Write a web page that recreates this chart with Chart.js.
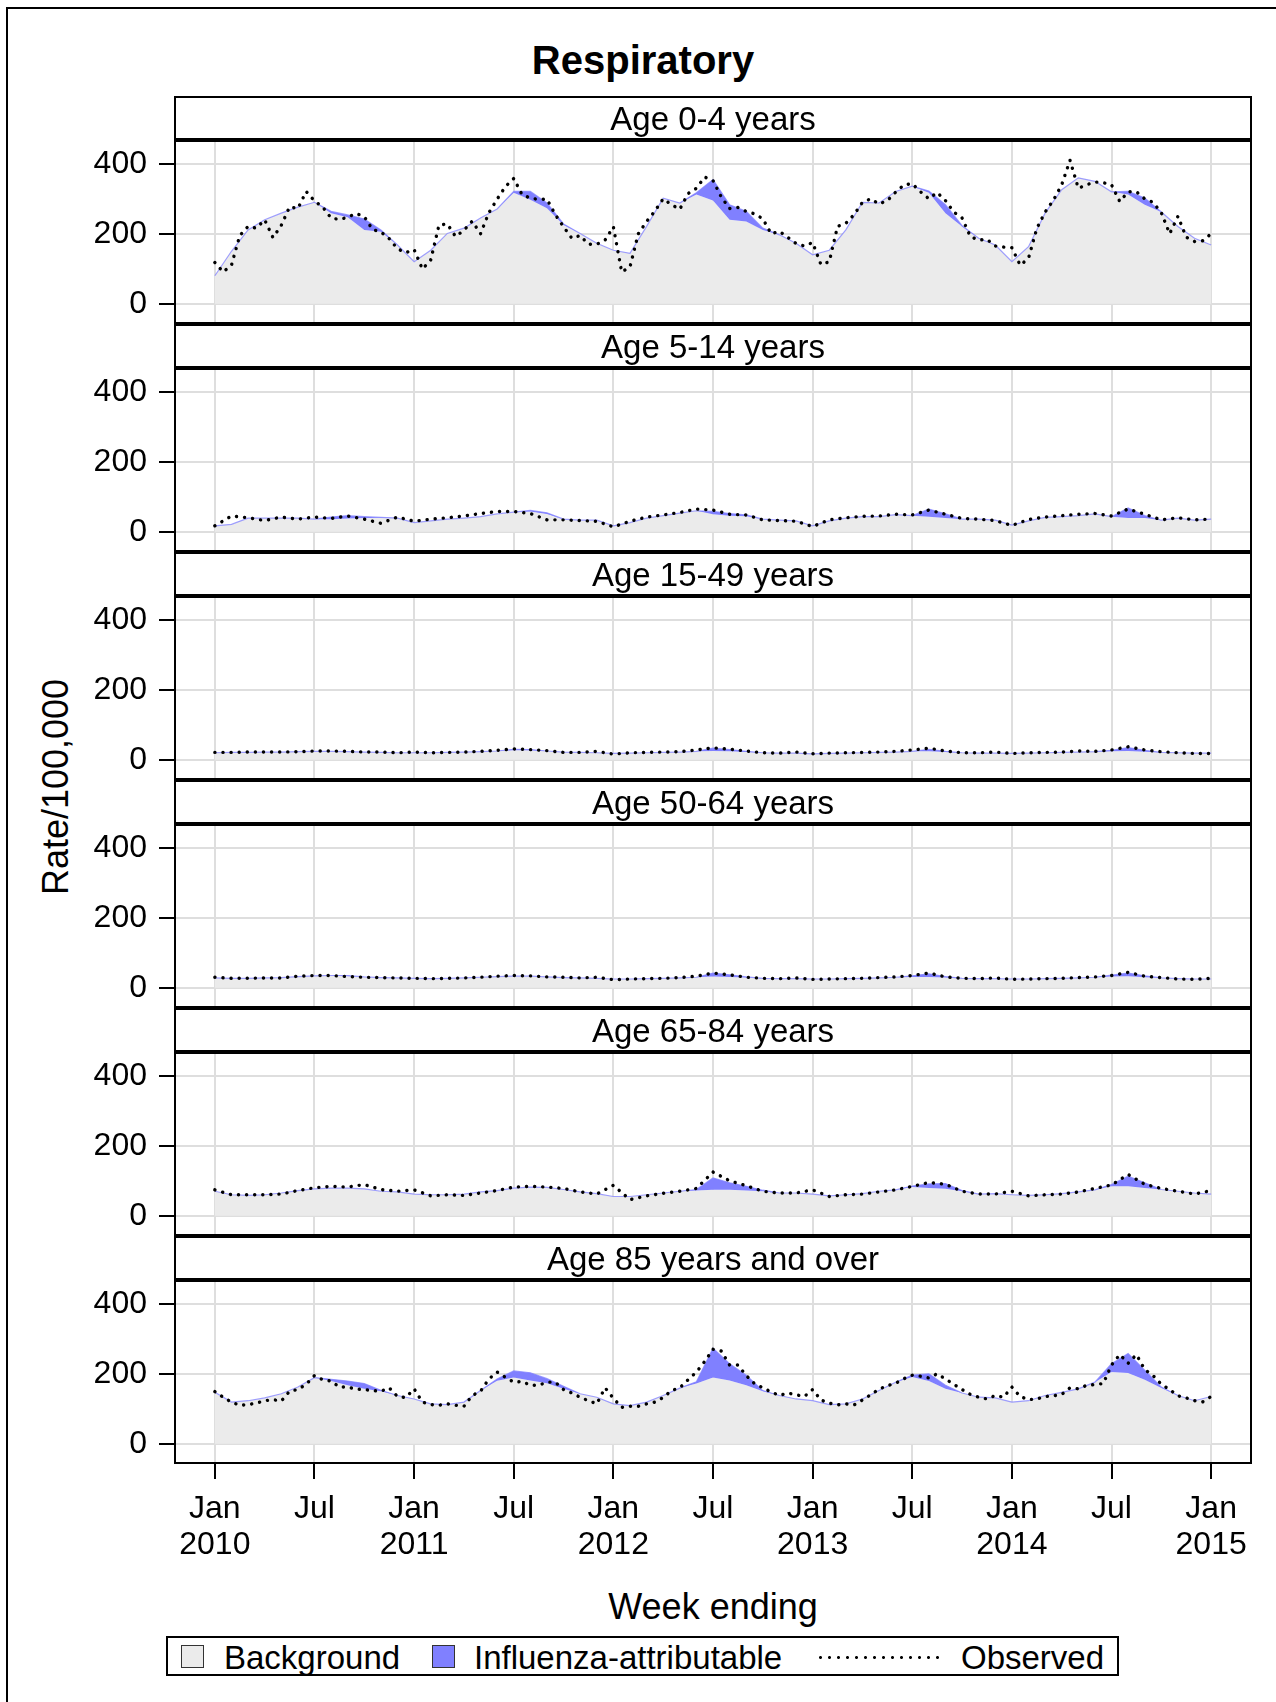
<!DOCTYPE html>
<html>
<head>
<meta charset="utf-8">
<title>Respiratory</title>
<script src="https://cdn.jsdelivr.net/npm/chart.js@4.4.1/dist/chart.umd.min.js"></script>
<style>
  body { margin: 0; background: #fff; width: 1276px; height: 1702px; overflow: hidden; position: relative;
         font-family: "Liberation Sans", Arial, sans-serif; color: #000; }
  #frame { position: absolute; left: 6px; top: 7px; width: 1290px; height: 1720px; border: 2px solid #000; }
  canvas { position: absolute; left: 0; }
  .txt { position: absolute; white-space: nowrap; }
  #title { left: 643px; top: 40px; font-size: 40px; line-height: 40px; font-weight: bold; transform: translateX(-50%); }
  #xtitle { left: 713px; top: 1589px; font-size: 36px; line-height: 36px; transform: translateX(-50%); }
  #ytitle { left: -144px; top: 769px; width: 400px; text-align: center; font-size: 36px; line-height: 36px; transform: rotate(-90deg); }
  #legend { position: absolute; left: 166px; top: 1636px; width: 949px; height: 36px; border: 2px solid #000; }
  .sw { position: absolute; top: 1645px; width: 21px; height: 21px; border: 1.5px solid #333; }
  .lt { top: 1641px; font-size: 33px; line-height: 33px; }
  #dots { position: absolute; left: 816px; top: 1655px; width: 128px; height: 5px;
          background-image: radial-gradient(circle, #000 1.2px, transparent 1.7px); background-size: 9px 5px; }
</style>
</head>
<body>
<div id="frame"></div>
<div class="txt" id="title">Respiratory</div>
<div class="txt" id="ytitle">Rate/100,000</div>
<div class="txt" id="xtitle">Week ending</div>

<canvas id="p0" width="1276" height="230" style="top:95px"></canvas>
<canvas id="p1" width="1276" height="230" style="top:323px"></canvas>
<canvas id="p2" width="1276" height="230" style="top:551px"></canvas>
<canvas id="p3" width="1276" height="230" style="top:779px"></canvas>
<canvas id="p4" width="1276" height="230" style="top:1007px"></canvas>
<canvas id="p5" width="1276" height="360" style="top:1235px"></canvas>

<div id="legend"></div>
<div class="sw" style="left:181px; background:#ebebeb"></div>
<div class="txt lt" style="left:224px">Background</div>
<div class="sw" style="left:432px; background:#8080ff"></div>
<div class="txt lt" style="left:474px">Influenza-attributable</div>
<div id="dots"></div>
<div class="txt lt" style="left:961px">Observed</div>

<script>
// panels
var panelLabels = ["Age 0-4 years", "Age 5-14 years", "Age 15-49 years", "Age 50-64 years", "Age 65-84 years", "Age 85 years and over"];

// x axis ticks (decimal years) and labels
var xTicks = [2010, 2010.5, 2011, 2011.5, 2012, 2012.5, 2013, 2013.5, 2014, 2014.5, 2015];
var xLabels = [["Jan", "2010"], "Jul", ["Jan", "2011"], "Jul", ["Jan", "2012"], "Jul", ["Jan", "2013"], "Jul", ["Jan", "2014"], "Jul", ["Jan", "2015"]];
var yTicks = [0, 200, 400];

// background and influenza-attributable rates, start of each month Jan 2010 .. Jan 2015
var bg0_4 = [80,150,211,240,259,276,290,259,247,211,206,168, 120,153,201,216,245,271,317,297,273,225,201,173,
             153,144,221,302,288,312,295,240,235,211,197,173, 140,153,211,290,288,321,336,317,259,221,187,168,
             120,163,259,326,360,350,320,312,283,262,221,187, 168];
var flu0_4 = [0,0,0,0,0,0,0,5,7,31,5,0, 0,0,0,0,0,0,4,24,15,3,0,0, 0,0,0,0,0,5,60,43,29,5,0,0,
              0,0,0,0,0,0,0,5,24,2,0,0, 0,0,0,0,0,0,0,9,19,0,0,0, 0];

var bg5_14 = [17,21,39,39,39,39,36,36,38,39,39,39, 26,31,36,39,43,51,56,58,51,36,33,33, 17,26,39,46,53,60,50,46,44,36,33,31,
              17,31,39,43,43,49,46,43,39,36,36,33, 19,31,41,43,46,51,43,39,39,33,39,33, 36];
var flu5_14 = [0,0,0,0,0,0,0,6,8,4,2,0, 0,0,0,0,0,0,0,3,3,0,0,0, 0,0,0,0,0,0,8,6,4,0,0,0,
               0,0,0,0,0,0,0,22,12,0,0,0, 0,0,0,0,0,0,0,29,7,0,0,0, 0];

var bg15_49 = [20,21,21,22,22,23,24,24,23,22,21,20, 20,20,21,22,23,25,27,27,25,22,21,20, 18,19,20,21,22,24,25,24,22,20,19,19,
               17,18,19,20,21,22,24,24,22,20,19,19, 18,19,20,21,22,23,24,25,23,21,20,19, 19];
var flu15_49 = [0,0,0,0,0,0,0,0,0,0,0,0, 0,0,0,0,0,0,3,2,0,0,0,0, 0,0,0,0,0,0,8,5,2,0,0,0,
                0,0,0,0,0,0,0,6,2,0,0,0, 0,0,0,0,0,0,3,10,4,0,0,0, 0];

var bg50_64 = [28,27,27,28,29,32,34,34,33,31,29,28, 27,26,27,28,30,32,33,33,31,29,28,27, 25,25,26,27,28,30,32,31,29,27,26,26,
               25,25,26,27,28,30,31,31,29,27,26,26, 25,25,26,27,28,30,32,33,30,28,26,25, 25];
var flu50_64 = [0,0,0,0,0,0,0,1,2,0,0,0, 0,0,0,0,0,0,0,0,0,0,0,0, 0,0,0,0,0,0,10,6,2,0,0,0,
                0,0,0,0,0,0,3,9,3,0,0,0, 0,0,0,0,0,0,4,9,4,0,0,0, 0];

var bg65_84 = [70,60,58,60,65,72,77,79,79,77,70,68, 62,60,60,62,68,72,79,82,81,75,68,63, 55,55,60,65,70,72,74,74,72,70,65,65,
               62,57,60,63,70,74,82,79,77,70,62,63, 60,58,60,63,68,74,84,84,79,75,70,65, 62];
var flu65_84 = [0,0,0,0,0,0,0,0,0,0,0,0, 0,0,0,0,0,0,0,0,0,0,0,0, 0,0,0,0,0,3,34,20,12,3,0,0,
                0,0,0,0,0,0,3,12,15,2,0,0, 0,0,0,0,0,0,5,29,15,0,0,0, 0];

var bg85 = [147,119,123,131,143,162,189,179,167,157,150,138, 128,114,112,119,152,180,189,181,173,157,143,133,
            114,109,119,138,159,172,189,181,167,150,138,128, 123,112,114,128,152,176,191,179,157,145,133,131,
            119,123,138,147,157,176,205,202,183,159,138,123, 135];
var flu85 = [0,0,0,0,0,0,0,5,12,15,3,0, 0,0,0,0,0,5,19,22,13,7,0,0, 0,0,0,0,0,5,84,48,29,2,0,0,
             0,0,0,0,0,0,5,21,10,0,0,0, 0,0,0,0,0,0,24,56,27,3,0,0, 0];

// observed, twice a month (0-4 and 85+) or monthly (other ages)
var obs0_4 = [118,91,110,195,221,216,240,189,224,277,272,321, 294,276,245,241,247,258,249,212,205,186,157,146,
              155,99,125,225,228,192,210,236,200,260,299,335, 358,312,302,298,299,255,220,187,195,170,170,182,
              220,91,105,200,235,265,300,283,270,315,330,362, 352,305,272,275,264,257,243,200,207,190,172,165,
              175,112,120,221,230,255,290,300,285,295,319,340, 343,320,300,318,295,262,245,192,182,184,165,162,
              160,110,130,215,262,296,340,410,330,340,348,346, 340,292,320,320,300,290,260,200,250,190,178,180, 200];
var obs85 = [149,133,119,110,112,116,123,126,122,150,155,170, 195,183,179,162,162,156,155,152,150,160,135,132,
             157,119,112,110,114,110,107,138,150,185,205,190, 176,178,167,167,176,176,155,145,133,123,114,160,
             130,104,107,107,114,119,132,152,160,183,205,235, 270,265,225,225,195,172,160,148,138,145,140,135,
             155,125,116,111,114,111,125,140,156,166,173,186, 196,193,188,200,185,170,155,141,133,128,138,133,
             162,135,126,128,135,137,141,160,157,167,169,172, 225,255,230,255,212,195,170,155,137,131,123,120, 135];
var obs5_14 = [17,45,40,32,42,36,42,38,45,36,24,42, 30,36,40,45,52,58,58,52,34,34,32,30, 14,30,42,48,55,65,62,50,48,34,32,30,
               15,34,40,44,45,50,48,62,50,38,36,32, 18,35,42,46,50,52,45,65,50,34,40,34, 36];
var obs15_49 = [21,21,22,22,22,23,25,25,24,22,22,20, 22,20,21,22,24,27,31,29,26,21,21,24, 16,20,21,22,23,28,34,30,25,20,19,22,
                17,19,20,21,22,24,28,33,25,20,20,22, 18,20,21,22,25,24,28,37,28,23,20,18, 18];
var obs50_64 = [30,27,27,28,28,33,35,35,32,30,29,28, 27,26,27,28,30,33,35,34,31,30,28,30, 23,25,26,27,29,33,42,37,30,27,26,28,
                24,25,26,27,29,31,35,42,31,27,26,28, 24,25,26,27,29,31,35,44,33,29,25,24, 27];
var obs65_84 = [74,60,60,60,62,72,80,84,82,89,75,70, 74,57,60,58,65,72,82,84,82,78,68,62, 87,46,57,64,70,78,125,100,86,70,65,65,
                74,55,60,62,68,74,84,95,90,70,62,62, 70,57,60,62,68,78,88,118,90,78,70,62, 72];

Chart.defaults.font.family = '"Liberation Sans", Arial, sans-serif';
Chart.defaults.color = '#000';

function toPoints(vals, perYear) {
    var pts = [];
    for (var i = 0; i < vals.length; i++) {
        pts.push({x: 2010 + i / perYear, y: vals[i]});
    }
    return pts;
}

function addUp(a, b) {
    var out = [];
    for (var i = 0; i < a.length; i++) out.push(a[i] + b[i]);
    return out;
}

// draws the strip header and the panel frame
var panelFrame = {
    id: 'panelFrame',
    afterDraw: function (chart, args, opts) {
        var a = chart.chartArea, c = chart.ctx;
        var w = a.right - a.left;
        c.save();
        c.fillStyle = '#fff';
        c.fillRect(a.left, 2, w, a.top - 2);
        c.strokeStyle = '#000';
        c.lineWidth = 2;
        c.strokeRect(a.left, 2, w, a.top - 2);
        c.strokeRect(a.left, a.top, w, a.bottom - a.top);
        c.lineWidth = 4;
        c.beginPath();
        c.moveTo(a.left, a.top);
        c.lineTo(a.right, a.top);
        c.stroke();
        c.fillStyle = '#000';
        c.font = '33px "Liberation Sans", Arial, sans-serif';
        c.textAlign = 'center';
        c.textBaseline = 'alphabetic';
        c.fillText(opts.label, (a.left + a.right) / 2, 35);
        c.restore();
    }
};

function makePanel(id, label, bg, flu, obs, obsPerYear, isBottom) {
    var canvas = document.getElementById(id);
    var H = canvas.height;
    new Chart(canvas.getContext('2d'), {
        type: 'line',
        data: {
            datasets: [
                {
                    label: 'Background',
                    data: toPoints(bg, 12),
                    fill: 'origin',
                    backgroundColor: '#ebebeb',
                    borderWidth: 0,
                    pointRadius: 0,
                    order: 3
                },
                {
                    label: 'Influenza-attributable',
                    data: toPoints(addUp(bg, flu), 12),
                    fill: '-1',
                    backgroundColor: '#8080ff',
                    borderColor: 'rgba(128,128,255,0.75)',
                    borderWidth: 1.2,
                    pointRadius: 0,
                    order: 2
                },
                {
                    label: 'Observed',
                    data: toPoints(obs, obsPerYear),
                    fill: false,
                    borderColor: '#000',
                    borderWidth: 3.4,
                    borderDash: [0.1, 8],
                    borderCapStyle: 'round',
                    pointRadius: 0,
                    order: 1
                }
            ]
        },
        options: {
            responsive: false,
            animation: false,
            events: [],
            layout: {padding: {left: 0, right: 25, top: 45, bottom: isBottom ? 0 : 2}},
            plugins: {
                legend: {display: false},
                tooltip: {enabled: false},
                panelFrame: {label: label}
            },
            scales: {
                x: {
                    type: 'linear',
                    min: 2009.8,
                    max: 2015.2,
                    afterBuildTicks: function (s) { s.ticks = xTicks.map(function (v) { return {value: v}; }); },
                    afterFit: function (s) {
                        s.height = isBottom ? H - 228 : 0;
                        s.paddingLeft = 0;
                        s.paddingRight = 0;
                    },
                    grid: {color: '#dedede', lineWidth: 2, drawTicks: isBottom, tickLength: 16, tickColor: '#000', tickWidth: 2},
                    border: {display: false},
                    ticks: {
                        display: isBottom,
                        autoSkip: false,
                        maxRotation: 0,
                        padding: 13,
                        color: '#000',
                        font: {size: 32, lineHeight: 1.1},
                        callback: function (v, i) { return xLabels[i]; }
                    }
                },
                y: {
                    min: -55,
                    max: 468,
                    afterBuildTicks: function (s) { s.ticks = yTicks.map(function (v) { return {value: v}; }); },
                    afterFit: function (s) {
                        s.width = 175;
                        s.paddingTop = 0;
                        s.paddingBottom = 0;
                    },
                    grid: {color: '#dedede', lineWidth: 2, tickLength: 16, tickColor: '#000', tickWidth: 2},
                    border: {display: false},
                    ticks: {
                        padding: 12,
                        color: '#000',
                        font: {size: 32},
                        callback: function (v) { return String(v); }
                    }
                }
            }
        },
        plugins: [panelFrame]
    });
}

makePanel('p0', panelLabels[0], bg0_4, flu0_4, obs0_4, 24, false);
makePanel('p1', panelLabels[1], bg5_14, flu5_14, obs5_14, 12, false);
makePanel('p2', panelLabels[2], bg15_49, flu15_49, obs15_49, 12, false);
makePanel('p3', panelLabels[3], bg50_64, flu50_64, obs50_64, 12, false);
makePanel('p4', panelLabels[4], bg65_84, flu65_84, obs65_84, 12, false);
makePanel('p5', panelLabels[5], bg85, flu85, obs85, 24, true);
</script>
</body>
</html>
